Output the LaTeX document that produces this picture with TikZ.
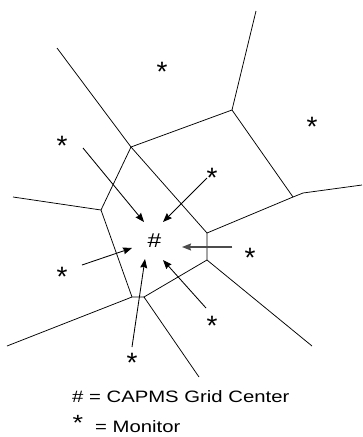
\documentclass[tikz,border=0pt]{standalone}
\usepackage{fontspec}
\setmainfont{Liberation Sans}
\newfontfamily\legfont[FakeStretch=1.23]{Liberation Sans}
\usetikzlibrary{arrows.meta}
\tikzset{
  edge/.style={line width=0.75pt, black},
  arr/.style={line width=0.85pt, -{Stealth[length=9pt,width=7pt,inset=1pt]}},
  mon/.style={anchor=base, inner sep=0pt, text depth=0pt, yshift=-16pt, font=\fontsize{28}{30}\selectfont},
  legmon/.style={anchor=base, inner sep=0pt, text depth=0pt, yshift=-13.8pt, font=\legfont\fontsize{22}{24}\selectfont},
  leg/.style={anchor=base west, inner sep=0pt, font=\legfont\fontsize{16.5}{20}\selectfont},
  cen/.style={anchor=base, inner sep=0pt, yshift=-7.8pt, font=\legfont\fontsize{20}{24}\selectfont}
}
\begin{document}
\begin{tikzpicture}[x=1pt,y=-1pt]
\useasboundingbox (0,0) rectangle (362,437);
% vertices
\coordinate (A) at (57,48);
\coordinate (B) at (131,147);
\coordinate (C) at (232,110);
\coordinate (D) at (256,11);
\coordinate (E) at (293,197);
\coordinate (E2) at (303,193);
\coordinate (F) at (362,185);
\coordinate (G) at (207,233);
\coordinate (H) at (207,260);
\coordinate (I) at (312,346);
\coordinate (J) at (144,297);
\coordinate (K) at (132,297);
\coordinate (L) at (199,377);
\coordinate (M) at (7,346);
\coordinate (N) at (101,210);
\coordinate (O) at (13,197);
% edges
\draw[edge] (A) -- (B) -- (G) -- (H) -- (I);
\draw[edge] (B) -- (C) -- (D);
\draw[edge] (C) -- (E) -- (E2) -- (F);
\draw[edge] (E) -- (G);
\draw[edge] (H) -- (J) -- (L);
\draw[edge] (J) -- (K) -- (M);
\draw[edge] (K) -- (N) -- (B);
\draw[edge] (N) -- (O);
% monitors
\node[mon] (m1) at (162,65) {*};
\node[mon] (m2) at (312,120) {*};
\node[mon] (m3) at (62,139) {*};
\node[mon] (m4) at (212,171) {*};
\node[mon] (m5) at (62,270) {*};
\node[mon] (m6) at (250,251) {*};
\node[mon] (m7) at (212,319) {*};
\node[mon] (m8) at (132,356) {*};
% grid center
\node[cen] (c) at (154.5,240) {\#};
% arrow endpoints
\coordinate (a1s) at (83,148);  \coordinate (a1e) at (144,222);
\coordinate (a2s) at (207,178); \coordinate (a2e) at (163,222);
\coordinate (a3s) at (82,265);  \coordinate (a3e) at (132,248);
\coordinate (a4s) at (232,247); \coordinate (a4e) at (182,247);
\coordinate (a5s) at (206,308); \coordinate (a5e) at (163,260);
\coordinate (a6s) at (132,347); \coordinate (a6e) at (145,259);
\draw[arr] (a1s) -- (a1e);
\draw[arr] (a2s) -- (a2e);
\draw[arr] (a3s) -- (a3e);
\draw[arr, draw=black!70, fill=black, line width=1.4pt] (a4s) -- (a4e);
\draw[arr] (a5s) -- (a5e);
\draw[arr] (a6s) -- (a6e);
% legend
\node[leg] (l1) at (72,402) {\# = CAPMS Grid Center};
\node[legmon] (l2) at (78,417) {*};
\node[leg] (l3) at (95,432) {= Monitor};
\end{tikzpicture}
\end{document}
